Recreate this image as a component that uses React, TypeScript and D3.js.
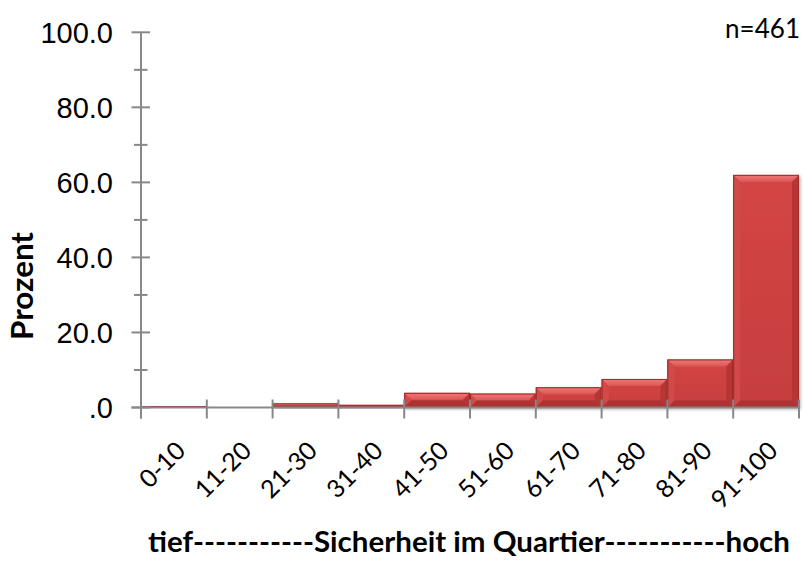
import React from "react";
import * as d3 from "d3";

// Share of respondents per safety-rating bracket (percent)
const categories: string[] = ["0-10", "11-20", "21-30", "31-40", "41-50", "51-60", "61-70", "71-80", "81-90", "91-100"];
const percents: number[] = [0.4, 0.0, 1.1, 0.7, 3.9, 3.7, 5.4, 7.6, 12.8, 62.0];
const majorTicks: number[] = [0, 20, 40, 60, 80, 100];
const minorTicks: number[] = [10, 30, 50, 70, 90];

const W = 804;
const H = 563;
const left = 141;
const right = 799;
const top = 32.3;
const bottom = 407.5;

const fmt = (v: number) => (v === 0 ? ".0" : d3.format(".1f")(v));

const AXIS = "#888888";

function Bar({ x, y, w, h }: { x: number; y: number; w: number; h: number }) {
  if (h <= 0) return null;
  const b = Math.min(7, h / 2);
  const x0 = x, x1 = x + w, y0 = y, y1 = y + h;
  return (
    <g filter="url(#barShadow)">
      <rect x={x0} y={y0} width={w} height={h} fill="url(#faceGrad)" />
      {/* top bevel */}
      <polygon points={`${x0},${y0} ${x1},${y0} ${x1 - b},${y0 + b} ${x0 + b},${y0 + b}`} fill="url(#topGrad)" />
      {/* left bevel */}
      <polygon points={`${x0},${y0} ${x0 + b},${y0 + b} ${x0 + b},${y1 - b} ${x0},${y1}`} fill="#d24a4a" />
      {/* right bevel */}
      <polygon points={`${x1},${y0} ${x1},${y1} ${x1 - b},${y1 - b} ${x1 - b},${y0 + b}`} fill="#b83636" />
      {/* bottom bevel */}
      <polygon points={`${x0},${y1} ${x0 + b},${y1 - b} ${x1 - b},${y1 - b} ${x1},${y1}`} fill="#ad3232" />
      <rect x={x0 + 0.5} y={y0 + 0.5} width={Math.max(0, w - 1)} height={Math.max(0, h - 1)} fill="none" stroke="#9e2a2a" strokeWidth={1} />
    </g>
  );
}

export default function App() {
  const x = d3.scaleBand<string>().domain(categories).range([left, right]).padding(0);
  const y = d3.scaleLinear().domain([0, 100]).range([bottom, top]);
  const boundaries = d3.range(categories.length + 1).map((i) => left + i * x.step());

  return (
    <svg width={W} height={H} style={{ position: "absolute", left: 0, top: 0, background: "#fff" }}>
      <defs>
        <linearGradient id="faceGrad" x1="0" y1="0" x2="0" y2="1">
          <stop offset="0" stopColor="#d44545" />
          <stop offset="1" stopColor="#c63e3e" />
        </linearGradient>
        <linearGradient id="topGrad" x1="0" y1="0" x2="0" y2="1">
          <stop offset="0" stopColor="#f07a7a" />
          <stop offset="1" stopColor="#dc5555" />
        </linearGradient>
        <filter id="barShadow" x="-10%" y="-10%" width="130%" height="130%">
          <feDropShadow dx="1.5" dy="1.5" stdDeviation="1.8" floodColor="#000" floodOpacity="0.3" />
        </filter>
      </defs>

      {/* bars */}
      {categories.map((c, i) => {
        const v = percents[i];
        const bx = x(c) as number;
        return <Bar key={c} x={bx} y={y(v)} w={x.bandwidth()} h={bottom - y(v)} />;
      })}

      {/* y axis */}
      <line x1={left} x2={left} y1={top} y2={bottom + 11} stroke={AXIS} strokeWidth={2} />
      {majorTicks.map((t) => (
        <line key={"M" + t} x1={left - 9.5} x2={left + 9} y1={y(t)} y2={y(t)} stroke={AXIS} strokeWidth={2} />
      ))}
      {minorTicks.map((t) => (
        <line key={"m" + t} x1={left - 7} x2={left + 6.5} y1={y(t)} y2={y(t)} stroke={AXIS} strokeWidth={2} />
      ))}
      {majorTicks.map((t) => (
        <text
          key={"l" + t}
          x={113}
          y={y(t)}
          dy="0.36em"
          textAnchor="end"
          fontFamily="'Liberation Sans', Arial, sans-serif"
          fontSize={29}
          fill="#000"
        >
          {fmt(t)}
        </text>
      ))}

      {/* x axis */}
      <line x1={left - 9.5} x2={right} y1={bottom} y2={bottom} stroke={AXIS} strokeWidth={2} />
      {boundaries.map((bx, i) => (
        <line key={"xt" + i} x1={bx} x2={bx} y1={bottom - 8} y2={bottom + 11} stroke={AXIS} strokeWidth={2} />
      ))}
      {categories.map((c) => {
        const cx = (x(c) as number) + x.bandwidth() / 2;
        return (
          <text
            key={"cl" + c}
            transform={`translate(${cx + 7},${446}) rotate(-45)`}
            textAnchor="end"
            dy="0.35em"
            fontFamily="Lato, 'Open Sans', sans-serif"
            fontSize={25}
            fill="#000"
          >
            {c}
          </text>
        );
      })}

      {/* axis titles */}
      <text
        transform={`translate(33,286) rotate(-90)`}
        textAnchor="middle"
        fontFamily="Lato, 'Open Sans', sans-serif"
        fontWeight="bold"
        fontSize={30}
        textLength={108}
        lengthAdjust="spacingAndGlyphs"
        fill="#000"
      >
        Prozent
      </text>
      <text
        x={469}
        y={552}
        textAnchor="middle"
        fontFamily="Lato, 'Open Sans', sans-serif"
        fontWeight="bold"
        fontSize={28}
        textLength={642}
        lengthAdjust="spacingAndGlyphs"
        fill="#000"
      >
        tief-----------Sicherheit im Quartier-----------hoch
      </text>
      <text
        x={800}
        y={38}
        textAnchor="end"
        fontFamily="Lato, 'Open Sans', sans-serif"
        fontSize={26}
        textLength={75}
        lengthAdjust="spacingAndGlyphs"
        fill="#000"
      >
        n=461
      </text>
    </svg>
  );
}
